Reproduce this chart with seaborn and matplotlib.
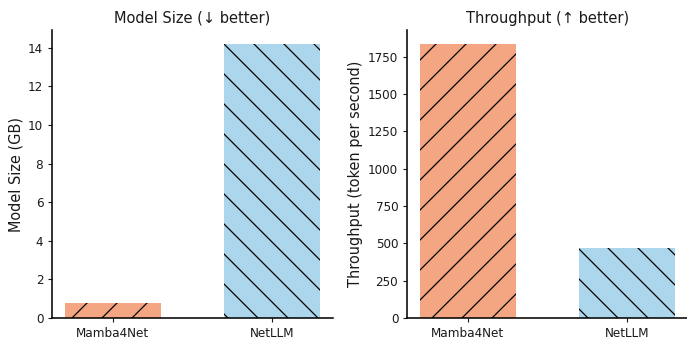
import matplotlib
matplotlib.use("Agg")
import matplotlib.pyplot as plt
import seaborn as sns
import pandas as pd

models = ["Mamba4Net", "NetLLM"]
model_size_gb = [0.78, 14.21]
throughput_tps = [1837, 466]
colors = ["#F4A582", "#ABD6EB"]
hatches = ["/", "\\"]

DPI = 90

sns.set_style("ticks")
plt.rcParams["font.family"] = ["DejaVu Sans"]
plt.rcParams["hatch.linewidth"] = 1.0

fig = plt.figure(figsize=(687 / DPI, 350 / DPI), dpi=DPI)
W, H = 687, 350
ax1 = fig.add_axes([52 / W, 32 / H, 281 / W, 288 / H])
ax2 = fig.add_axes([407 / W, 32 / H, 281 / W, 288 / H])

df1 = pd.DataFrame({"Model": models, "Value": model_size_gb})
df2 = pd.DataFrame({"Model": models, "Value": throughput_tps})

panels = [
    (ax1, df1, "Model Size (↓ better)", "Model Size (GB)"),
    (ax2, df2, "Throughput (↑ better)", "Throughput (token per second)"),
]
for ax, df, title, ylabel in panels:
    sns.barplot(data=df, x="Model", y="Value", hue="Model", palette=colors,
                saturation=1, width=0.6, legend=False, ax=ax,
                edgecolor="black", linewidth=0)
    for bar, h in zip(ax.patches, hatches):
        bar.set_hatch(h)
        bar.set_edgecolor("black")
        bar.set_linewidth(0)
    ax.set_xlim(-0.38, 1.38)
    ax.set_title(title, fontsize=11.7, color="#1a1a1a", pad=6)
    ax.set_ylabel(ylabel, fontsize=11.6, color="#1a1a1a", labelpad=4)
    ax.set_xlabel("")
    ax.tick_params(axis="both", labelsize=9.6, colors="#1a1a1a",
                   length=3.5, width=0.9, pad=3.5)
    for s in ["left", "bottom"]:
        ax.spines[s].set_linewidth(1.25)
        ax.spines[s].set_color("black")
    sns.despine(ax=ax)

ax2.set_yticks([0, 250, 500, 750, 1000, 1250, 1500, 1750])
fig.savefig("out.png", dpi=DPI)
